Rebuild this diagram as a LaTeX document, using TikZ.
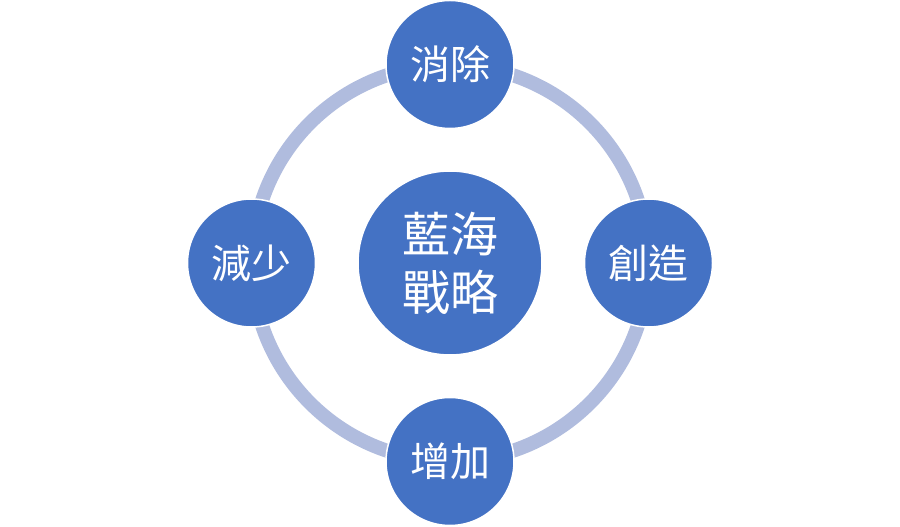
\documentclass[tikz,border=0pt]{standalone}
\usepackage{fontspec}
\setmainfont{Noto Sans CJK TC}
\usetikzlibrary{positioning}
\definecolor{petal}{HTML}{4472C4}
\definecolor{rim}{HTML}{B0BCDE}
\begin{document}
\begin{tikzpicture}[node distance=41pt,
  hub/.style={circle,fill=petal,draw=white,line width=1.5pt,minimum size=184pt,inner sep=0pt,
    text=white,align=center,font=\fontsize{48}{58}\selectfont},
  leaf/.style={circle,fill=petal,draw=white,line width=1.5pt,minimum size=128pt,inner sep=0pt,
    text=white,font=\fontsize{40}{48}\selectfont},
  ring/.style={draw=rim,line width=14pt}]

\useasboundingbox (0,0) rectangle (900pt,527pt);

\coordinate (mid) at (450pt,264pt);
\draw[ring] (mid) circle[radius=198pt];

\node[hub]  (bos) at (mid)          {藍海\\戰略};
\node[leaf] (elim) [above=of bos]   {消除};
\node[leaf] (crea) [right=of bos]   {創造};
\node[leaf] (rais) [below=of bos]   {增加};
\node[leaf] (redu) [left=of bos]    {減少};

\end{tikzpicture}
\end{document}
